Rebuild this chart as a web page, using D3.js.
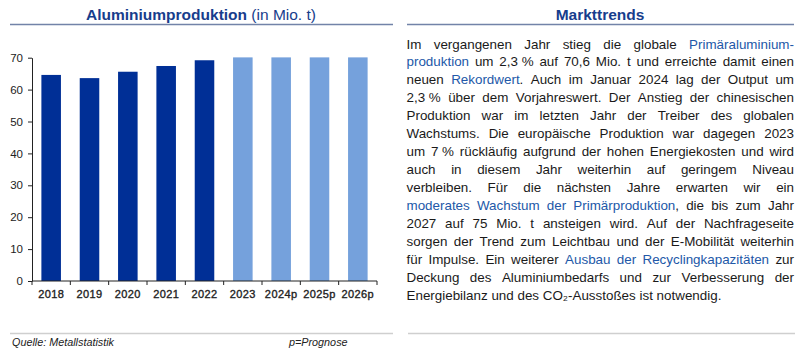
<!DOCTYPE html>
<html>
<head>
<meta charset="utf-8">
<script src="https://cdn.jsdelivr.net/npm/d3@7"></script>
<style>
  body { margin: 0; background: #fff; }
  svg { display: block; font-family: Arial, "Liberation Sans", sans-serif; }
</style>
</head>
<body>
<script>
// Data
const years = ['2018', '2019', '2020', '2021', '2022', '2023', '2024p', '2025p', '2026p'];
const production = [64.6, 63.6, 65.6, 67.4, 69.2, 70.1, 70.1, 70.1, 70.1];
const isForecast = [false, false, false, false, false, true, true, true, true];
const yTicks = [0, 10, 20, 30, 40, 50, 60, 70];

// Text panel lines; [text, highlighted]  (\u00a0 = no-break space)
const lines = [
  [['Im vergangenen Jahr stieg die globale ', 0], ['Primäraluminium-', 1]],
  [['produktion', 1], [' um 2,3\u00a0% auf 70,6 Mio. t und erreichte damit einen', 0]],
  [['neuen ', 0], ['Rekordwert', 1], ['. Auch im Januar 2024 lag der Output um', 0]],
  [['2,3\u00a0% über dem Vorjahreswert. Der Anstieg der chinesischen', 0]],
  [['Produktion war im letzten Jahr der Treiber des globalen', 0]],
  [['Wachstums. Die europäische Produktion war dagegen 2023', 0]],
  [['um 7\u00a0% rückläufig aufgrund der hohen Energiekosten und wird', 0]],
  [['auch in diesem Jahr weiterhin auf geringem Niveau', 0]],
  [['verbleiben. Für die nächsten Jahre erwarten wir ein', 0]],
  [['moderates Wachstum der Primärproduktion', 1], [', die bis zum Jahr', 0]],
  [['2027 auf 75 Mio. t ansteigen wird. Auf der Nachfrageseite', 0]],
  [['sorgen der Trend zum Leichtbau und der E-Mobilität weiterhin', 0]],
  [['für Impulse. Ein weiterer ', 0], ['Ausbau der Recyclingkapazitäten', 1], [' zur', 0]],
  [['Deckung des Aluminiumbedarfs und zur Verbesserung der', 0]],
  [['Energiebilanz und des CO\u2082-Ausstoßes ist notwendig.', 0]]
];

const w = 800;
const h = 352;
const titleBlue = '#173d8c';
const linkBlue = '#2258a8';
const bodySize = '13.4px';

const svg = d3.select('body').append('svg')
  .attr('width', w)
  .attr('height', h);

// Headers
function header(cx, x1, x2, parts) {
  const t = svg.append('text')
    .attr('x', cx)
    .attr('y', 20)
    .attr('text-anchor', 'middle')
    .attr('font-size', '15.5px')
    .attr('fill', titleBlue);
  parts.forEach(p => t.append('tspan').attr('font-weight', p[1] ? 'bold' : 'normal').text(p[0]));
  svg.append('line')
    .attr('x1', x1).attr('x2', x2)
    .attr('y1', 24.5).attr('y2', 24.5)
    .attr('stroke', '#7283a8')
    .attr('stroke-width', 1.6);
}
header(201, 10, 393, [['Aluminiumproduktion', 1], [' (in Mio. t)', 0]]);
header(600, 407, 794, [['Markttrends', 1]]);

// Chart
const margin = { left: 32, right: 377, top: 57.7, bottom: 281 };

const x = d3.scaleBand()
  .domain(years)
  .range([margin.left, margin.right])
  .paddingInner(0.49)
  .paddingOuter(0.245);

const y = d3.scaleLinear()
  .domain([0, 70])
  .range([margin.bottom, margin.top]);

svg.selectAll('.bar')
  .data(years)
  .enter()
  .append('rect')
  .attr('class', 'bar')
  .attr('x', d => x(d))
  .attr('width', x.bandwidth())
  .attr('y', (d, i) => y(production[i]))
  .attr('height', (d, i) => y(0) - y(production[i]))
  .attr('fill', (d, i) => isForecast[i] ? '#75a1dc' : '#002f96');

// Y axis
const yAxis = svg.append('g')
  .attr('transform', `translate(${margin.left},0)`)
  .call(d3.axisLeft(y).tickValues(yTicks).tickSize(4).tickSizeOuter(0));
yAxis.select('.domain').attr('stroke', '#222');
yAxis.selectAll('.tick line').attr('stroke', '#222');
yAxis.selectAll('.tick text')
  .attr('font-size', '11.5px')
  .attr('font-family', 'Arial, "Liberation Sans", sans-serif')
  .attr('fill', '#222')
  .attr('x', -9);

// X axis, ticks at category boundaries
const xAxis = svg.append('g')
  .attr('transform', `translate(0,${margin.bottom})`);
xAxis.append('line')
  .attr('x1', margin.left).attr('x2', margin.right)
  .attr('stroke', '#222');
const step = x.step();
xAxis.selectAll('.xtick')
  .data(d3.range(years.length + 1))
  .enter()
  .append('line')
  .attr('x1', i => margin.left + i * step)
  .attr('x2', i => margin.left + i * step)
  .attr('y1', 0).attr('y2', 4)
  .attr('stroke', '#222');
xAxis.selectAll('.xlabel')
  .data(years)
  .enter()
  .append('text')
  .attr('x', d => x(d) + x.bandwidth() / 2)
  .attr('y', 17)
  .attr('text-anchor', 'middle')
  .attr('font-size', '11px')
  .attr('letter-spacing', '0.4px')
  .attr('fill', '#222')
  .attr('stroke', '#222')
  .attr('stroke-width', 0.35)
  .text(d => d);

// Text panel, justified
const textLeft = 406.5;
const textRight = 794;
const lineTop = 48.5;
const lineGap = 17.95;

const measure = svg.append('text').attr('font-size', bodySize).attr('x', -999).attr('y', -999);
function widthOf(s) {
  measure.text(s);
  return measure.node().getComputedTextLength();
}

lines.forEach((parts, li) => {
  // split into words, a word may change colour in the middle
  const words = [];
  parts.forEach(([txt, hl]) => {
    txt.split(' ').forEach((c, ci) => {
      if (ci > 0) words.push(null);
      if (c === '') return;
      const prev = words[words.length - 1];
      if (ci === 0 && prev) prev.pieces.push([c, hl]);
      else words.push({ pieces: [[c, hl]] });
    });
  });
  const ws = words.filter(d => d !== null);
  ws.forEach(wd => { wd.width = d3.sum(wd.pieces, p => widthOf(p[0])); });
  const total = d3.sum(ws, d => d.width);
  const last = li === lines.length - 1;
  const gap = last ? widthOf('a b') - widthOf('ab') : (textRight - textLeft - total) / (ws.length - 1);
  let cx = textLeft;
  const yPos = lineTop + li * lineGap;
  ws.forEach(wd => {
    let px = cx;
    wd.pieces.forEach(([s, hl]) => {
      svg.append('text')
        .attr('x', px)
        .attr('y', yPos)
        .attr('font-size', bodySize)
        .attr('fill', hl ? linkBlue : '#1a1a1a')
        .text(s);
      px += widthOf(s);
    });
    cx += wd.width + gap;
  });
});
measure.remove();

// Footer
svg.append('line')
  .attr('x1', 10).attr('x2', 393)
  .attr('y1', 333.5).attr('y2', 333.5)
  .attr('stroke', '#cfcfcf').attr('stroke-width', 1.5);
svg.append('line')
  .attr('x1', 408).attr('x2', 795)
  .attr('y1', 333.5).attr('y2', 333.5)
  .attr('stroke', '#cfcfcf').attr('stroke-width', 1.5);
svg.append('text')
  .attr('x', 12).attr('y', 346)
  .attr('font-size', '10.8px').attr('font-style', 'italic').attr('fill', '#222')
  .text('Quelle: Metallstatistik');
svg.append('text')
  .attr('x', 289).attr('y', 346)
  .attr('font-size', '10.8px').attr('font-style', 'italic').attr('fill', '#222')
  .text('p=Prognose');
</script>
</body>
</html>
